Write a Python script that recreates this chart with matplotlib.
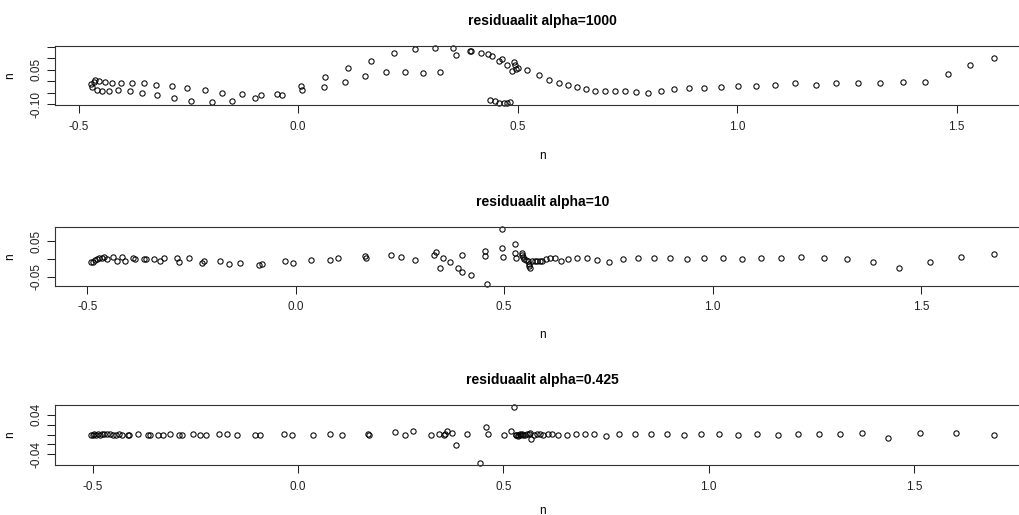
import numpy as np
import matplotlib.pyplot as plt

plt.rcParams['font.family'] = ['Liberation Sans', 'DejaVu Sans']

# residuals for alpha = 1000
x1 = [-0.4715, -0.4685, -0.4655, -0.4617, -0.4586, -0.4541, -0.4465, -0.4404, -0.4305, -0.4237,
      -0.4100, -0.4024, -0.3834, -0.3788, -0.3561, -0.3508, -0.3242, -0.3212, -0.2878, -0.2832,
      -0.2529, -0.2437, -0.2126, -0.1967, -0.1731, -0.1496, -0.1284, -0.0980, -0.0836, -0.0479,
      -0.0365, 0.0075, 0.0098, 0.0584, 0.0622, 0.1062, 0.1138, 0.1525, 0.1670, 0.1996,
      0.2186, 0.2429, 0.2657, 0.2846, 0.3120, 0.3241, 0.3537, 0.3598, 0.3910, 0.3948,
      0.4175, 0.4320, 0.4411, 0.4585, 0.4654, 0.4760, 0.4867, 0.4912, 0.4950, 0.4973,
      0.5003, 0.4366, 0.4487, 0.4585, 0.4684, 0.4760, 0.4837,
      0.5216, 0.5481, 0.5709, 0.5945, 0.6157, 0.6347, 0.6552, 0.6765, 0.6985, 0.7213,
      0.7448, 0.7699, 0.7965, 0.8268, 0.8564, 0.8906, 0.9248, 0.9627, 1.0030, 1.0425,
      1.0872, 1.1321, 1.1784, 1.2262, 1.2748, 1.3242, 1.3766, 1.4274, 1.4798, 1.5307, 1.5847]
y1 = [-0.012, -0.024, -0.002, 0.006, -0.038, 0.001, -0.043, -0.005, -0.043, -0.006,
      -0.038, -0.006, -0.043, -0.006, -0.050, -0.010, -0.015, -0.061, -0.021, -0.075,
      -0.031, -0.084, -0.040, -0.089, -0.052, -0.084, -0.056, -0.075, -0.062, -0.056,
      -0.061, -0.021, -0.038, -0.025, 0.016, -0.002, 0.056, 0.021, 0.088, 0.038,
      0.121, 0.038, 0.138, 0.034, 0.144, 0.038, 0.144, 0.112, 0.130, 0.130,
      0.121, 0.116, 0.109, 0.087, 0.094, 0.068, 0.043, 0.084, 0.071, 0.054,
      0.057, -0.080, -0.087, -0.093, -0.095, -0.093, -0.090,
      0.049, 0.026, 0.006, -0.006, -0.015, -0.024, -0.036, -0.043, -0.043, -0.043,
      -0.043, -0.047, -0.052, -0.043, -0.034, -0.031, -0.030, -0.025, -0.019, -0.019,
      -0.015, -0.009, -0.015, -0.009, -0.006, -0.006, -0.002, -0.002, 0.031, 0.068, 0.102]

# residuals for alpha = 10
x2 = [-0.491, -0.486, -0.482, -0.478, -0.472, -0.466, -0.459, -0.453, -0.438, -0.429,
      -0.416, -0.409, -0.391, -0.385, -0.365, -0.360, -0.339, -0.325, -0.315, -0.284,
      -0.280, -0.255, -0.225, -0.220, -0.181, -0.161, -0.134, -0.087, -0.081, -0.026,
      -0.006, 0.037, 0.081, 0.102, 0.166, 0.168, 0.228, 0.252, 0.287, 0.331,
      0.337, 0.345, 0.353, 0.369, 0.390, 0.400, 0.399, 0.421, 0.453, 0.454,
      0.458, 0.494, 0.497, 0.494, 0.525, 0.527, 0.529,
      0.542, 0.544, 0.545, 0.548, 0.553, 0.558, 0.560, 0.561, 0.559, 0.566,
      0.573, 0.578, 0.585, 0.591, 0.600, 0.610, 0.621, 0.636, 0.654, 0.674,
      0.699, 0.723, 0.752, 0.785, 0.820, 0.859, 0.899, 0.939, 0.980, 1.025,
      1.070, 1.117, 1.164, 1.213, 1.267, 1.322, 1.385, 1.448, 1.521, 1.597, 1.675]
y2 = [-0.009, -0.007, -0.003, 0.000, 0.002, 0.003, 0.005, 0.000, 0.005, -0.005,
      0.005, -0.005, 0.003, -0.001, 0.000, 0.000, 0.000, -0.005, 0.003, 0.003,
      -0.007, 0.003, -0.010, -0.006, -0.005, -0.014, -0.011, -0.017, -0.015, -0.005,
      -0.010, -0.002, -0.002, 0.003, 0.009, 0.003, 0.012, 0.005, -0.002, 0.012,
      0.020, -0.025, 0.002, -0.007, -0.025, -0.036, 0.012, -0.045, 0.023, 0.008,
      -0.069, 0.030, 0.005, 0.085, 0.043, 0.018, 0.003,
      0.016, 0.011, 0.005, 0.000, -0.003, -0.005, -0.014, -0.025, -0.020, -0.005,
      -0.005, -0.005, -0.006, -0.005, 0.000, 0.002, 0.002, -0.005, 0.000, 0.002,
      0.002, -0.002, -0.007, -0.001, 0.002, 0.002, 0.002, -0.001, 0.002, 0.002,
      -0.001, 0.002, 0.002, 0.005, 0.002, -0.001, -0.009, -0.025, -0.007, 0.007, 0.015]

# residuals for alpha = 0.425
x3 = [-0.504, -0.500, -0.496, -0.492, -0.488, -0.483, -0.478, -0.472, -0.465, -0.459,
      -0.450, -0.443, -0.435, -0.428, -0.415, -0.411, -0.390, -0.366, -0.360, -0.341,
      -0.329, -0.313, -0.289, -0.283, -0.257, -0.239, -0.223, -0.192, -0.174, -0.149,
      -0.106, -0.093, -0.034, -0.014, 0.037, 0.079, 0.106, 0.171, 0.174, 0.236,
      0.260, 0.280, 0.323, 0.343, 0.356, 0.362, 0.358, 0.376, 0.385, 0.411,
      0.444, 0.459, 0.463, 0.502, 0.518, 0.526, 0.532, 0.537, 0.540,
      0.530, 0.536, 0.541, 0.545, 0.549, 0.553, 0.557, 0.563, 0.565, 0.568,
      0.575, 0.581, 0.589, 0.597, 0.610, 0.619, 0.633, 0.654, 0.677, 0.700,
      0.722, 0.750, 0.782, 0.821, 0.860, 0.899, 0.940, 0.982, 1.025, 1.072,
      1.118, 1.168, 1.218, 1.270, 1.321, 1.373, 1.436, 1.515, 1.602, 1.695]
y3 = [0.000, 0.000, 0.001, 0.000, 0.001, 0.000, 0.001, 0.001, 0.001, 0.001,
      0.000, 0.000, 0.001, 0.000, 0.000, 0.000, 0.001, 0.000, 0.000, 0.000,
      0.000, 0.001, 0.000, 0.000, 0.001, 0.000, 0.000, 0.001, 0.001, 0.000,
      0.000, -0.002, 0.001, 0.000, 0.000, 0.001, 0.000, 0.001, 0.000, 0.005,
      0.000, 0.007, -0.002, 0.001, 0.000, 0.007, 0.001, 0.003, -0.022, 0.001,
      -0.057, 0.015, 0.001, 0.000, 0.008, 0.055, 0.000, -0.002, 0.001,
      -0.002, -0.003, 0.000, 0.001, -0.002, 0.000, 0.001, 0.001, 0.003, -0.009,
      0.000, 0.001, 0.001, 0.000, 0.001, 0.001, -0.002, 0.000, 0.001, 0.001,
      0.001, -0.003, 0.001, 0.001, 0.001, 0.001, 0.000, 0.001, 0.001, 0.000,
      0.001, 0.000, 0.001, 0.001, 0.001, 0.003, -0.008, 0.003, 0.003, 0.000]

titles = ["residuaalit alpha=1000", "residuaalit alpha=10", "residuaalit alpha=0.425"]
yticks = [[-0.10, -0.05, 0.00, 0.05, 0.10, 0.15],
          [-0.05, 0.00, 0.05],
          [-0.04, -0.02, 0.00, 0.02, 0.04]]
ylabels = [["-0.10", "", "", "0.05", "", ""],
           ["-0.05", "", "0.05"],
           ["-0.04", "", "", "", "0.04"]]
xticks = [-0.5, 0.0, 0.5, 1.0, 1.5]
xlabels = ["-0.5", "0.0", "0.5", "1.0", "1.5"]

W, H = 1020, 515
fig = plt.figure(figsize=(W / 100, H / 100), dpi=100)

# panel boxes in pixels: (top, bottom, gap down to the x label)
boxes = [(45.7, 105.3, 45), (226.7, 285.7, 43), (405.0, 465.0, 40)]
left_px, width_px = 55, 975


def padded(v):
    # R-style axis range: data range plus 4% on each side
    lo, hi = min(v), max(v)
    d = (hi - lo) * 0.04
    return lo - d, hi + d


for i, (xs, ys) in enumerate([(x1, y1), (x2, y2), (x3, y3)]):
    top, bot, xl_gap = boxes[i]
    h_px = bot - top
    ax = fig.add_axes([left_px / W, (H - bot) / H, width_px / W, h_px / H])
    ax.plot(xs, ys, 'o', ms=3.8, mfc='none', mec='black', mew=0.75, clip_on=False)
    ax.set_xlim(*padded(xs))
    ax.set_ylim(*padded(ys))

    ax.set_xticks(xticks)
    ax.set_xticklabels(xlabels)
    ax.set_yticks(yticks[i])
    ax.set_yticklabels(ylabels[i])
    ax.tick_params(axis='both', direction='out', length=5.8, width=0.75,
                   labelsize=8.5, colors='#222222')
    ax.tick_params(axis='x', pad=5.5)
    ax.tick_params(axis='y', pad=3.5)
    for lab in ax.get_yticklabels():
        lab.set_rotation(90)
        lab.set_va('center')

    for sp in ax.spines.values():
        sp.set_linewidth(0.8)
        sp.set_color('#333333')

    ax.set_title(titles[i], fontsize=10, fontweight='bold', pad=15)
    ax.set_xlabel('n', fontsize=8.5)
    ax.set_ylabel('n', fontsize=8.5)
    ax.xaxis.set_label_coords(0.5, -xl_gap / h_px)
    ax.yaxis.set_label_coords(-39 / width_px, 0.5)

fig.savefig('out.png', dpi=100)
